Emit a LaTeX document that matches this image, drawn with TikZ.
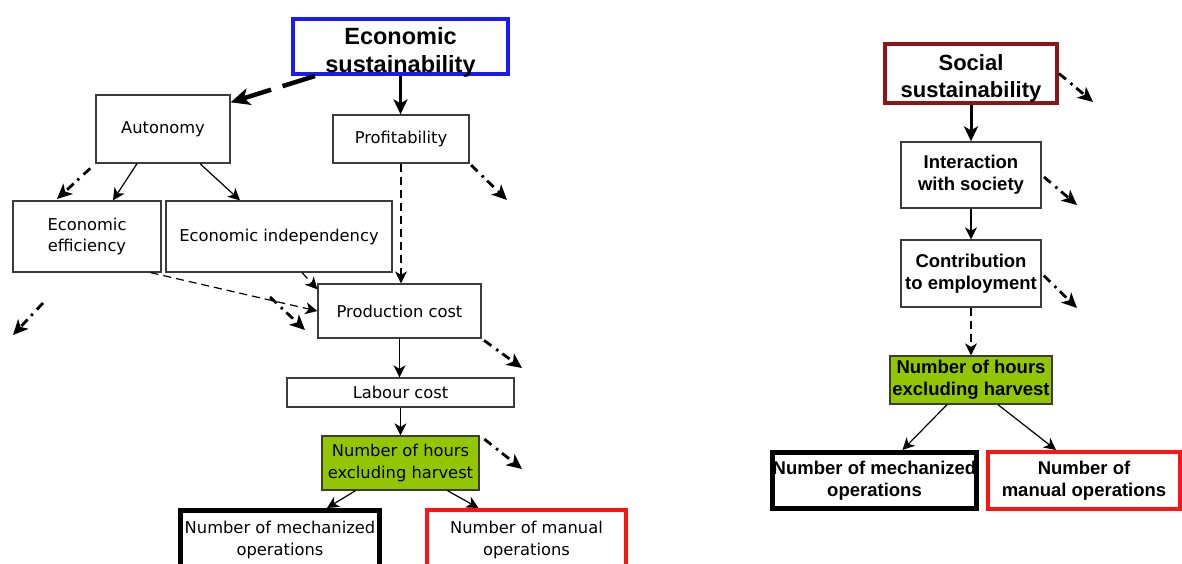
\documentclass[tikz,border=0pt]{standalone}
\usepackage{fontspec}
\setmainfont{DejaVu Sans}
\newfontfamily\headfont{Liberation Sans}
\usetikzlibrary{arrows.meta}

\definecolor{boxgray}{RGB}{60,60,60}
\definecolor{ecoblue}{RGB}{25,25,250}
\definecolor{socred}{RGB}{140,22,22}
\definecolor{manred}{RGB}{255,20,20}
\definecolor{hourgreen}{RGB}{145,198,0}

\begin{document}
\begin{tikzpicture}[
    x=1pt, y=-1pt,
    box/.style={rectangle, draw=boxgray, line width=1.3pt, fill=white, inner sep=0pt, align=center, font=\fontsize{16.3}{21.5}\selectfont},
    title/.style={box, line width=4pt, font=\headfont\bfseries\fontsize{23.5}{28}\selectfont},
    sbox/.style={box, font=\headfont\bfseries\fontsize{18.5}{22}\selectfont},
    hours/.style={fill=hourgreen},
    arrow/.style={-{Stealth[length=12pt, width=12pt, inset=3.5pt]}, line width=1.2pt},
    dasharrow/.style={arrow, dash pattern=on 8pt off 5pt},
    bigarrow/.style={-{Stealth[length=15pt, width=14pt, inset=4pt]}, line width=3pt},
    dangle/.style={-{Stealth[length=15pt, width=14pt, inset=4pt]}, line width=2.8pt, dash pattern=on 9pt off 6pt on 2.5pt off 5pt}
]
    \fill[white] (0,0) rectangle (1182,563);
    \useasboundingbox (0,0) rectangle (1182,563);

    % economic side
    \node[title, draw=ecoblue, minimum width=215, minimum height=55] (eco) at (400.5,46.5) {\rule{0pt}{24pt}Economic\\\smash{sustainability}};
    \node[box, minimum width=134, minimum height=68] (aut) at (163,129) {Autonomy};
    \node[box, minimum width=136, minimum height=48] (prof) at (401,139) {Profitability};
    \node[box, minimum width=148, minimum height=71] (eff) at (87,236.5) {Economic\\efficiency};
    \node[box, minimum width=226, minimum height=71] (ind) at (279,236.5) {Economic independency};
    \node[box, minimum width=163, minimum height=54] (prod) at (399.5,311) {Production cost};
    \node[box, minimum width=227, minimum height=29] (lab) at (400.5,392.5) {Labour cost};
    \node[box, hours, minimum width=157, minimum height=54] (hrs) at (400.5,463) {Number of hours\\excluding harvest};
    \node[box, draw=black, line width=5pt, minimum width=199, minimum height=59] (mech) at (280,540) {Number of mechanized\\operations};
    \node[box, draw=manred, line width=4pt, minimum width=199, minimum height=60] (man) at (526.5,540) {Number of manual\\operations};

    \coordinate (autout) at (57,199);
    \coordinate (profout) at (507,200);
    \coordinate (prodout) at (522,368);
    \coordinate (hrsout) at (522,469);
    \coordinate (midin) at (270,297);
    \coordinate (midout) at (305,330);
    \coordinate (leftin) at (43,303);
    \coordinate (leftout) at (13,335);

    \draw[-{Stealth[length=19pt, width=17pt, inset=5pt]}, line width=4.5pt, dash pattern=on 34pt off 12pt] ([xshift=24pt]eco.south west) -- ([yshift=-8pt]aut.north east);
    \draw[bigarrow] (eco.south) -- (eco.south |- prof.north);
    \draw[arrow] ([xshift=-26pt]aut.south) -- ([xshift=26pt]eff.north);
    \draw[arrow] ([xshift=37pt]aut.south) -- ([xshift=-39pt]ind.north);
    \draw[dasharrow] (prof.south) -- (prof.south |- prod.north);
    \draw[dasharrow] ([xshift=23pt]ind.south) -- ([yshift=-6pt]prod.north west);
    \draw[dasharrow] ([xshift=-11pt]eff.south east) -- (prod.west);
    \draw[arrow] (prod.south) -- (prod.south |- lab.north);
    \draw[arrow] (lab.south) -- (hrs.north);
    \draw[arrow] ([xshift=-45pt]hrs.south) -- ([xshift=47pt]mech.north);
    \draw[arrow] ([xshift=47pt]hrs.south) -- ([xshift=-48pt]man.north);

    \draw[dangle, shorten <=7pt] (aut.south west) -- (autout);
    \draw[dangle, shorten <=2pt] (prof.south east) -- (profout);
    \draw[dangle, shorten <=3pt] (prod.south east) -- (prodout);
    \draw[dangle, shorten <=6pt] (hrs.north east) -- (hrsout);
    \draw[dangle] (midin) -- (midout);
    \draw[dangle] (leftin) -- (leftout);

    % social side
    \node[title, draw=socred, font=\headfont\bfseries\fontsize{22}{27}\selectfont, minimum width=172, minimum height=59] (soc) at (971,73.5) {\rule{0pt}{21pt}Social\\\smash{sustainability}};
    \node[sbox, minimum width=140, minimum height=66] (inter) at (971,175) {Interaction\\with society};
    \node[sbox, minimum width=140, minimum height=67] (emp) at (971,273.5) {Contribution\\to employment};
    \node[sbox, hours, minimum width=162, minimum height=48] (shrs) at (971,380) {Number of hours\\excluding harvest};
    \node[sbox, draw=black, line width=5pt, minimum width=200, minimum height=56] (smech) at (874.5,480.5) {Number of mechanized\\operations};
    \node[sbox, draw=manred, line width=4pt, minimum width=192, minimum height=57] (sman) at (1084,480.5) {Number of\\manual operations};

    \coordinate (socout) at (1093,102);
    \coordinate (interout) at (1077,205);
    \coordinate (empout) at (1077,308);

    \draw[bigarrow] (soc.south) -- (inter.north);
    \draw[arrow] (inter.south) -- (emp.north);
    \draw[dasharrow] (emp.south) -- (shrs.north);
    \draw[arrow] ([xshift=-24pt]shrs.south) -- ([xshift=28pt]smech.north);
    \draw[arrow] ([xshift=27pt]shrs.south) -- ([xshift=-28pt]sman.north);

    \draw[dangle] (soc.east) -- (socout);
    \draw[dangle, shorten <=3pt] (inter.east) -- (interout);
    \draw[dangle, shorten <=3pt] (emp.east) -- (empout);
\end{tikzpicture}
\end{document}
